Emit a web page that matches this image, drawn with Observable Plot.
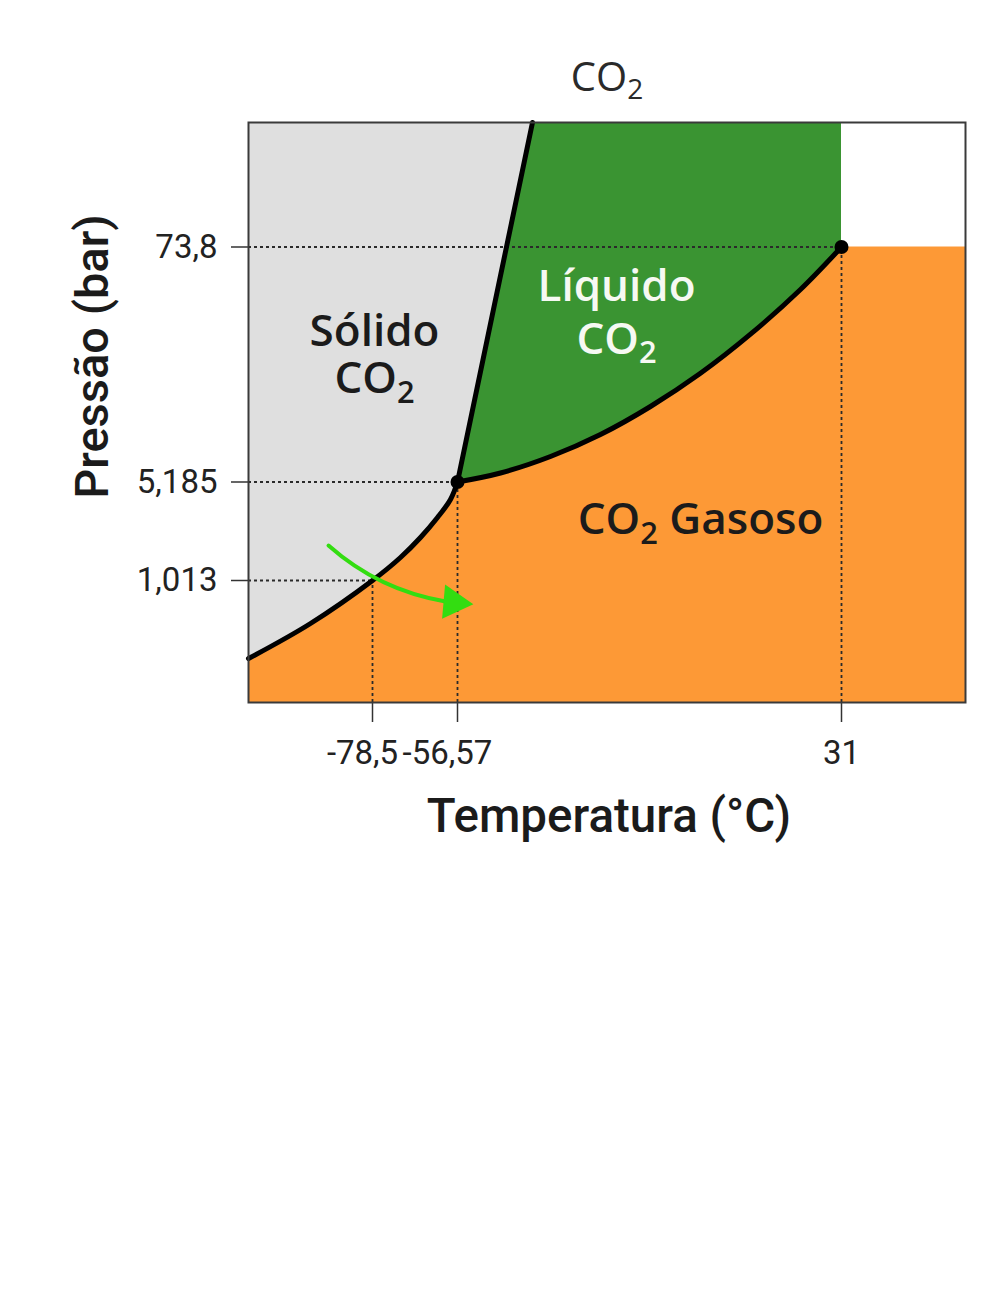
<!DOCTYPE html>
<html>
<head>
<meta charset="utf-8">
<script src="https://cdn.jsdelivr.net/npm/d3@7"></script>
<script src="https://cdn.jsdelivr.net/npm/@observablehq/plot@0.6"></script>
<style>
  body { margin: 0; background: #ffffff; }
  #chart svg { display: block; }
</style>
</head>
<body>
<div id="chart"></div>
<script>
// ---- Data (schematic CO2 phase diagram, temperature °C / pressure bar) ----
const xTicks = [-78.5, -56.57, 31];
const xTickLabels = ["-78,5", "-56,57", "31"];
const yTicks = [1.013, 5.185, 73.8];
const yTickLabels = ["1,013", "5,185", "73,8"];

// axis extents of the schematic
const tMin = -107, tMax = 59;
const pMin = 0, pMax = 100;

// sublimation curve (solid / gas)
const sublimT = [-107, -92.75, -78.5, -71.28, -66.12, -61.73, -58.38, -56.57];
const sublimP = [0.365, 0.656, 1.013, 1.987, 2.834, 3.681, 4.444, 5.185];
// vaporization curve (liquid / gas)
const vapT = [-56.57, -46.76, -35.36, -23.96, -12.56, -1.16, 10.25, 21.65, 31];
const vapP = [5.185, 7.813, 12.63, 19.05, 27.23, 36.92, 48.34, 61.39, 73.8];
// melting line (solid / liquid)
const meltT = [-56.57, -45.4, -39.47];
const meltP = [5.185, 73.8, 100];

// marked points: normal sublimation point, triple point, critical point
const markT = [-78.5, -56.57, 31];
const markP = [1.013, 5.185, 73.8];
const markDot = [false, true, true];

// region labels
const solidLabel = "Sólido\nCO₂", solidT = -77.98, solidP = 31.03;
const liquidLabel = "Líquido\nCO₂", liquidT = -20.31, liquidP = 42.70;
const gasLabel = "CO₂ Gasoso", gasT = -1.16, gasP = 2.97;

// green sublimation arrow (shaft + head)
const arrowFromT = [-88.61], arrowFromP = [2.495];
const arrowToT = [-59.67], arrowToP = [0.839];
const arrowHeadT = [-57.6], arrowHeadP = [0.830];

const title = "CO₂";
const xLabel = "Temperatura (°C)";
const yLabel = "Pressão (bar)";

// ---- Build tables ----
const zip = (T, P) => T.map((t, i) => ({T: t, P: P[i]}));
const sublim = zip(sublimT, sublimP);
const vap = zip(vapT, vapP);
const melt = zip(meltT, meltP);
const marks = markT.map((t, i) => ({T: t, P: markP[i], dot: markDot[i]}));
const arrows = arrowFromT.map((t, i) => ({T1: t, P1: arrowFromP[i], T2: arrowToT[i], P2: arrowToP[i]}));
const heads = zip(arrowHeadT, arrowHeadP);
const whiteBox = [{T1: 31, T2: tMax, P1: 73.8, P2: pMax}];
const xTickData = xTicks.map((t, i) => ({T: t, label: xTickLabels[i]}));

const GRAY = "#dfdfdf", GREEN = "#3a9432", ORANGE = "#fd9936", ARROW = "#33dd11";
const dotted = {stroke: "#2a2a2a", strokeWidth: 1.8, strokeDasharray: "3,3"};
const tickText = {frameAnchor: "bottom", lineAnchor: "top", dy: 38, fontSize: 33, fill: "#222", text: "label", x: "T"};
const regionFont = {lineAnchor: "bottom", fontFamily: "'Open Sans', sans-serif", fontWeight: 600, fontSize: 44};

const plot = Plot.plot({
  width: 1005,
  height: 852,
  marginLeft: 248,
  marginRight: 40,
  marginTop: 122,
  marginBottom: 150,
  style: {fontFamily: "Roboto, sans-serif", background: "#ffffff", color: "#222"},
  x: {type: "linear", domain: [tMin, -78.5, -56.57, 31, tMax], range: [248, 372, 457, 841, 965]},
  y: {type: "linear", domain: [pMin, 1.013, 5.185, 73.8, pMax], range: [702, 580, 481.5, 246.5, 122]},
  marks: [
    Plot.frame({fill: ORANGE, stroke: null}),
    Plot.areaY(vap, {x: "T", y1: "P", y2: pMax, fill: GREEN, curve: "catmull-rom"}),
    Plot.rect(whiteBox, {x1: "T1", x2: "T2", y1: "P1", y2: "P2", fill: "#ffffff"}),
    Plot.areaY(sublim, {x: "T", y1: "P", y2: pMax, fill: GRAY, curve: "catmull-rom"}),
    Plot.areaX(melt, {y: "P", x1: tMin, x2: "T", fill: GRAY}),
    // dotted guide lines
    Plot.ruleY(marks, {y: "P", x1: tMin, x2: "T", ...dotted}),
    Plot.ruleX(marks, {x: "T", y1: pMin, y2: "P", ...dotted}),
    // phase boundaries
    Plot.line(sublim, {x: "T", y: "P", stroke: "#000", strokeWidth: 5, curve: "catmull-rom"}),
    Plot.line(vap, {x: "T", y: "P", stroke: "#000", strokeWidth: 5, curve: "catmull-rom"}),
    Plot.line(melt, {x: "T", y: "P", stroke: "#000", strokeWidth: 5}),
    Plot.dot(marks.filter(d => d.dot), {x: "T", y: "P", r: 7, fill: "#000"}),
    // arrow
    Plot.arrow(arrows, {x1: "T1", y1: "P1", x2: "T2", y2: "P2", bend: -16, stroke: ARROW, strokeWidth: 4, headLength: 0}),
    Plot.dot(heads, {x: "T", y: "P", symbol: "triangle", r: 12.8, rotate: 95, fill: ARROW, stroke: null}),
    // region labels
    Plot.text([solidLabel], {text: d => d, x: () => solidT, y: () => solidP, fill: "#1b1b1b", lineHeight: 1.09, ...regionFont}),
    Plot.text([liquidLabel], {text: d => d, x: () => liquidT, y: () => liquidP, fill: "#f6f9f3", lineHeight: 1.2, ...regionFont}),
    Plot.text([gasLabel], {text: d => d, x: () => gasT, y: () => gasP, fill: "#1b1b1b", ...regionFont}),
    // axes
    Plot.axisY({ticks: yTicks, tickFormat: d => yTickLabels[yTicks.indexOf(d)], tickSize: 17, tickPadding: 14, fontSize: 33, stroke: "#333", strokeWidth: 1.5, label: null}),
    Plot.axisX({ticks: xTicks, tickFormat: () => "", tickSize: 20, stroke: "#333", strokeWidth: 1.5, label: null}),
    Plot.text(xTickData.filter(d => d.T < 0), {...tickText, dx: -10}),
    Plot.text(xTickData.filter(d => d.T >= 0), {...tickText}),
    Plot.frame({stroke: "#3a3a3a", strokeWidth: 2}),
    // title and axis labels
    Plot.text([title], {text: d => d, frameAnchor: "top", dy: -32, lineAnchor: "bottom", fontFamily: "'Open Sans', sans-serif", fontSize: 40, fill: "#2a2a2a"}),
    Plot.text([xLabel], {text: d => d, frameAnchor: "bottom", dx: 2, dy: 129, lineAnchor: "bottom", fontSize: 47.5, fontWeight: 500, fill: "#1b1b1b"}),
    Plot.text([yLabel], {text: d => d, frameAnchor: "left", rotate: -90, dx: -141, dy: -56, lineAnchor: "bottom", textAnchor: "middle", fontSize: 47, fontWeight: 500, fill: "#1b1b1b"})
  ]
});

// render the "₂" in CO₂ as a true subscript (works on plain texts and on line tspans)
const NS = "http://www.w3.org/2000/svg";
function subscript(node) {
  const parts = node.textContent.split("₂");
  node.textContent = "";
  parts.forEach((p, i) => {
    if (i > 0) {
      const s = document.createElementNS(NS, "tspan");
      s.textContent = "2";
      s.setAttribute("font-size", "0.7em");
      s.setAttribute("dy", "0.3em");
      node.appendChild(s);
    }
    if (p) {
      const b = document.createElementNS(NS, "tspan");
      b.textContent = p;
      if (i > 0) b.setAttribute("dy", "-0.21em");
      node.appendChild(b);
    }
  });
}
plot.querySelectorAll("text").forEach(t => {
  if (!t.textContent.includes("₂")) return;
  const lines = t.querySelectorAll("tspan");
  if (lines.length === 0) subscript(t);
  else lines.forEach(l => { if (l.textContent.includes("₂")) subscript(l); });
});

document.getElementById("chart").appendChild(plot);
</script>
</body>
</html>
